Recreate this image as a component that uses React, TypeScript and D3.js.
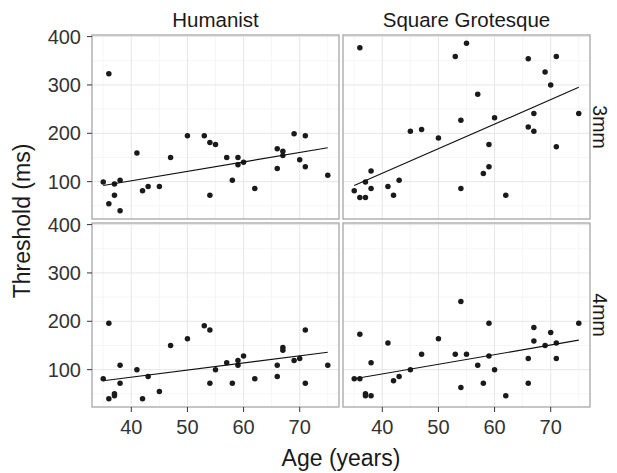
import React from "react";
import * as d3 from "d3";

// Ages of the 32 participants (shared by all panels)
const ages = [35, 36, 36, 37, 37, 38, 38, 41, 42, 43, 45, 47, 50, 53, 54, 54, 55, 57, 58, 59, 59, 60, 62, 66, 66, 67, 67, 69, 70, 71, 71, 75];

// Threshold (ms) per panel, in the order of `ages`
const humanist3mm = [99, 323, 54, 95, 72, 103, 40, 159, 81, 90, 90, 150, 195, 195, 181, 72, 177, 150, 103, 150, 135, 140, 86, 168, 127, 163, 154, 199, 145, 195, 131, 113];
const squareGrotesque3mm = [81, 377, 67, 67, 99, 86, 122, 90, 72, 103, 204, 208, 190, 359, 227, 86, 386, 281, 117, 177, 131, 232, 72, 354, 213, 241, 204, 327, 300, 359, 172, 241];
const humanist4mm = [81, 196, 40, 50, 46, 109, 72, 100, 40, 86, 55, 150, 164, 191, 182, 72, 100, 114, 72, 119, 109, 128, 81, 109, 86, 146, 140, 119, 123, 182, 72, 109];
const squareGrotesque4mm = [81, 81, 173, 50, 46, 46, 114, 155, 77, 86, 100, 132, 164, 132, 241, 63, 132, 109, 72, 196, 128, 100, 46, 123, 72, 187, 159, 150, 177, 155, 123, 196];

// Fitted trend line per panel: value at the youngest and oldest age
const fitHumanist3mm = [92, 170];
const fitSquareGrotesque3mm = [92, 295];
const fitHumanist4mm = [77, 136];
const fitSquareGrotesque4mm = [81, 161];

const columns = ["Humanist", "Square Grotesque"];
const rows = ["3mm", "4mm"];
const panelValues = [
  [humanist3mm, squareGrotesque3mm],
  [humanist4mm, squareGrotesque4mm],
];
const panelFits = [
  [fitHumanist3mm, fitSquareGrotesque3mm],
  [fitHumanist4mm, fitSquareGrotesque4mm],
];

const xTicks = [40, 50, 60, 70];
const xMinor = [35, 45, 55, 65, 75];
const yTicks = [100, 200, 300, 400];
const yMinor = [50, 150, 250, 350];

const WIDTH = 617;
const HEIGHT = 473;
const LEFT = 92;
const TOP = 35;
const PW = 247;
const PH = 184;
const GAP = 4;

const FONT = "'Liberation Sans', Arial, Helvetica, sans-serif";

export default function App() {
  const [xmin, xmax] = d3.extent(ages) as [number, number];
  const allVals = [...humanist3mm, ...squareGrotesque3mm, ...humanist4mm, ...squareGrotesque4mm];
  const [ymin, ymax] = d3.extent(allVals) as [number, number];
  const xpad = (xmax - xmin) * 0.05;
  const ypad = (ymax - ymin) * 0.05;
  const x = d3.scaleLinear().domain([xmin - xpad, xmax + xpad]).range([0, PW]);
  const y = d3.scaleLinear().domain([ymin - ypad, ymax + ypad]).range([PH, 0]);

  const line = d3
    .line<[number, number]>()
    .x((d) => x(d[0]))
    .y((d) => y(d[1]));

  return (
    <svg width={WIDTH} height={HEIGHT} style={{ position: "absolute", left: 0, top: 0, background: "#fff" }} fontFamily={FONT}>
      <rect width={WIDTH} height={HEIGHT} fill="#fff" />
      {rows.map((row, ri) =>
        columns.map((col, ci) => {
          const px = LEFT + ci * (PW + GAP);
          const py = TOP + ri * (PH + GAP);
          const vals = panelValues[ri][ci];
          const fitv = panelFits[ri][ci];
          return (
            <g key={row + col} transform={`translate(${px},${py})`}>
              <rect width={PW} height={PH} fill="#fff" />
              {xMinor.map((t) => (
                <line key={"xm" + t} x1={x(t)} x2={x(t)} y1={0} y2={PH} stroke="#f4f4f4" strokeWidth={0.8} />
              ))}
              {yMinor.map((t) => (
                <line key={"ym" + t} x1={0} x2={PW} y1={y(t)} y2={y(t)} stroke="#f4f4f4" strokeWidth={0.8} />
              ))}
              {xTicks.map((t) => (
                <line key={"xg" + t} x1={x(t)} x2={x(t)} y1={0} y2={PH} stroke="#e6e6e6" strokeWidth={1} />
              ))}
              {yTicks.map((t) => (
                <line key={"yg" + t} x1={0} x2={PW} y1={y(t)} y2={y(t)} stroke="#e6e6e6" strokeWidth={1} />
              ))}
              {ages.map((ag, i) => (
                <circle key={i} cx={x(ag)} cy={y(vals[i])} r={2.75} fill="#1a1a1a" />
              ))}
              <path
                d={line([
                  [xmin, fitv[0]],
                  [xmax, fitv[1]],
                ]) || ""}
                fill="none"
                stroke="#111"
                strokeWidth={1.1}
              />
              <rect width={PW} height={PH} fill="none" stroke="#a6a6a6" strokeWidth={1.3} />
              {ri === 0 && (
                <text x={PW / 2} y={-8} textAnchor="middle" fontSize={20.5} fill="#1a1a1a">
                  {col}
                </text>
              )}
              {ci === 1 && (
                <text
                  transform={`translate(${PW + 10},${PH / 2}) rotate(90)`}
                  dy="0.35em"
                  textAnchor="middle"
                  fontSize={19.5}
                  fill="#1a1a1a"
                >
                  {row}
                </text>
              )}
              {ci === 0 &&
                yTicks.map((t) => (
                  <g key={"yt" + t} transform={`translate(0,${y(t)})`}>
                    <line x1={-5} x2={0} stroke="#333" strokeWidth={1} />
                    <text x={-11} dy="0.36em" textAnchor="end" fontSize={20} fill="#333">
                      {t}
                    </text>
                  </g>
                ))}
              {ri === 1 &&
                xTicks.map((t) => (
                  <g key={"xt" + t} transform={`translate(${x(t)},${PH})`}>
                    <line y1={0} y2={5} stroke="#333" strokeWidth={1} />
                    <text y={27} textAnchor="middle" fontSize={20} fill="#333">
                      {t}
                    </text>
                  </g>
                ))}
            </g>
          );
        })
      )}
      <text x={LEFT + PW + GAP / 2} y={466} textAnchor="middle" fontSize={23} fill="#1a1a1a">
        Age (years)
      </text>
      <text
        transform={`translate(30,${TOP + PH + GAP / 2}) rotate(-90)`}
        textAnchor="middle"
        fontSize={23}
        fill="#1a1a1a"
      >
        Threshold (ms)
      </text>
    </svg>
  );
}
